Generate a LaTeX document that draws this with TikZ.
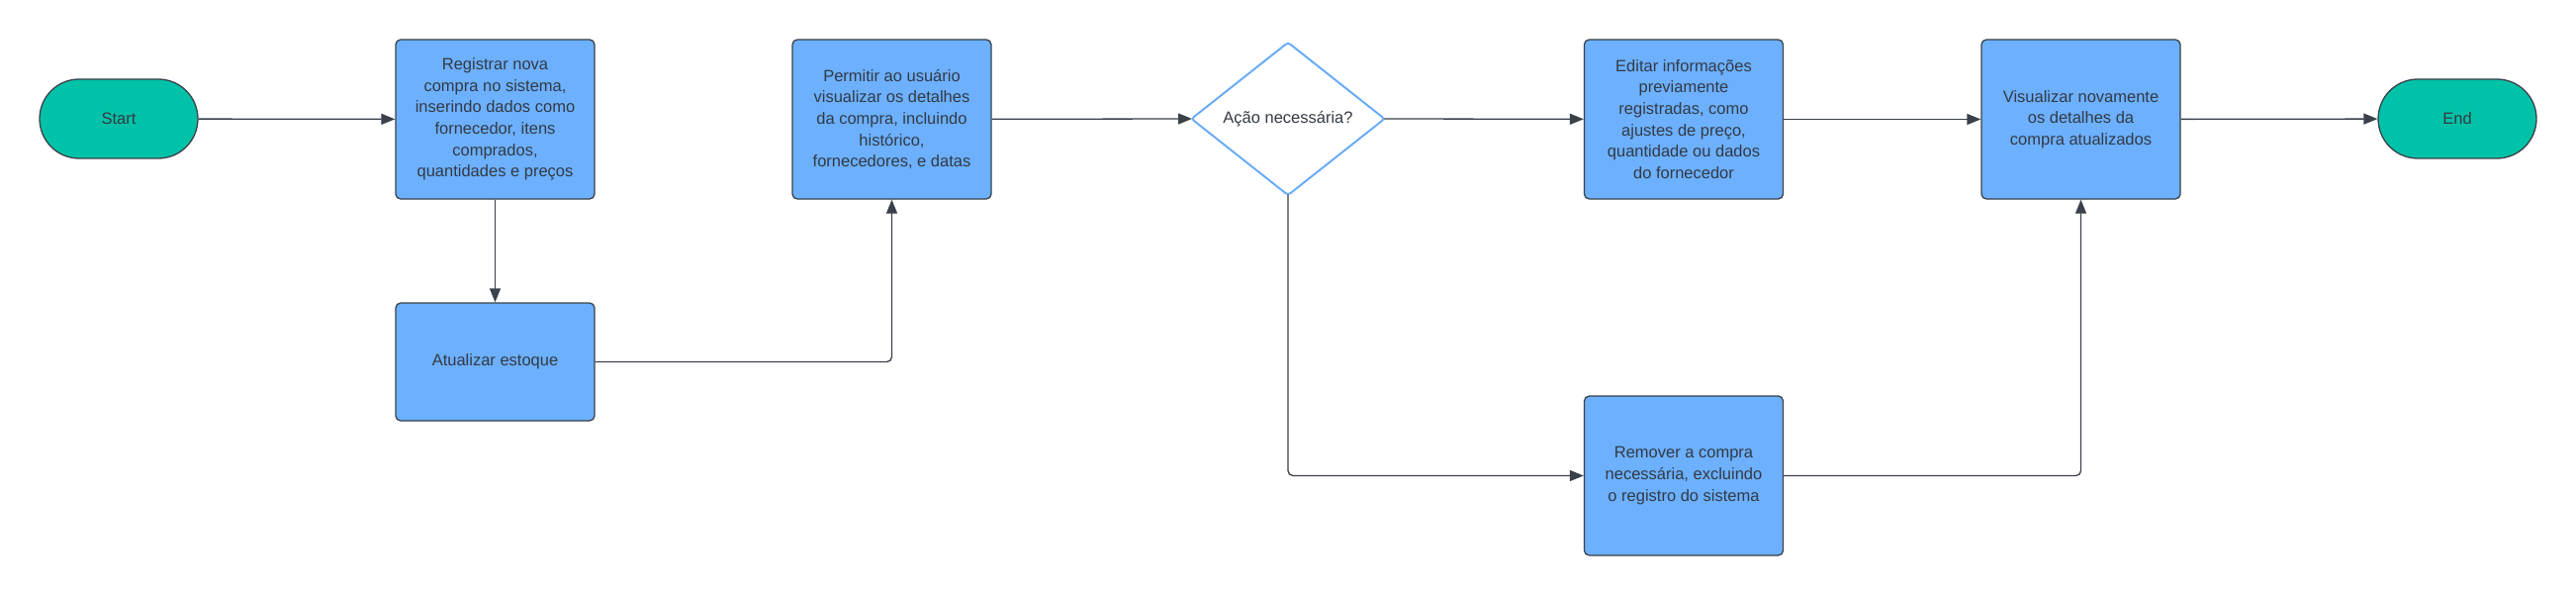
\documentclass[tikz,border=0pt]{standalone}
\usepackage{fontspec}
\setmainfont{Liberation Sans}
\usetikzlibrary{arrows.meta,shapes.geometric,positioning}
\definecolor{boxblue}{HTML}{6CB0FE}
\definecolor{teal}{HTML}{00C2A8}
\definecolor{linegray}{HTML}{3A414A}
\definecolor{txtgray}{HTML}{333A44}
\definecolor{diablue}{HTML}{6AACF8}
\tikzset{
  stepbox/.style={draw=linegray, fill=boxblue, line width=1.3pt, rounded corners=5pt,
    minimum width=201pt, minimum height=161pt, inner sep=0pt, align=center,
    text=txtgray, font=\fontsize{16.5}{21.7}\selectfont},
  terminal/.style={draw=linegray, fill=teal, line width=1.3pt, rounded corners=40pt,
    minimum width=160pt, minimum height=80pt, inner sep=0pt, align=center,
    text=txtgray, font=\fontsize{16.5}{21.7}\selectfont},
  decision/.style={diamond, draw=diablue, fill=white, line width=2pt, rounded corners=3pt,
    minimum width=196pt, minimum height=155pt, inner sep=0pt, align=center,
    text=txtgray, font=\fontsize{16.5}{21.7}\selectfont},
  conn/.style={draw=linegray, line width=1.3pt, rounded corners=5pt,
    -{Triangle[length=14pt,width=11pt]}},
}
\begin{document}
\begin{tikzpicture}[x=1pt,y=-1pt]
\useasboundingbox (0,0) rectangle (2604,602);
\node[terminal] (start) at (120,120) {Start};
\node[stepbox] (reg) at (500.5,120.5) {Registrar nova\\compra no sistema,\\inserindo dados como\\fornecedor, itens\\comprados,\\quantidades e preços};
\node[stepbox, minimum height=119pt] (atu) at (500.5,365.5) {Atualizar estoque};
\node[stepbox] (perm) at (901.5,120.5) {Permitir ao usuário\\visualizar os detalhes\\da compra, incluindo\\histórico,\\fornecedores, e datas};
\node[decision] (dec) at (1302,120) {Ação necessária?};
\node[stepbox] (edit) at (1702,120.5) {Editar informações\\previamente\\registradas, como\\ajustes de preço,\\quantidade ou dados\\do fornecedor};
\node[stepbox] (vis) at (2103.5,120.5) {Visualizar novamente\\os detalhes da\\compra atualizados};
\node[stepbox] (rem) at (1702,480.5) {Remover a compra\\necessária, excluindo\\o registro do sistema};
\node[terminal] (end) at (2484,120) {End};
\coordinate (decW) at ([xshift=2pt]dec.west);
\coordinate (decE) at ([xshift=-2pt]dec.east);
\coordinate (decS) at ([yshift=2pt]dec.south);

\draw[conn] (start) -- (reg);
\draw[conn] (reg) -- (atu);
\draw[conn] (atu.east) -| (perm.south);
\draw[conn] (perm) -- (decW);
\draw[conn] (decE) -- (edit);
\draw[conn] (edit) -- (vis);
\draw[conn] (vis) -- (end);
\draw[conn] (decS) |- (rem.west);
\draw[conn] (rem.east) -| (vis.south);
\end{tikzpicture}
\end{document}
